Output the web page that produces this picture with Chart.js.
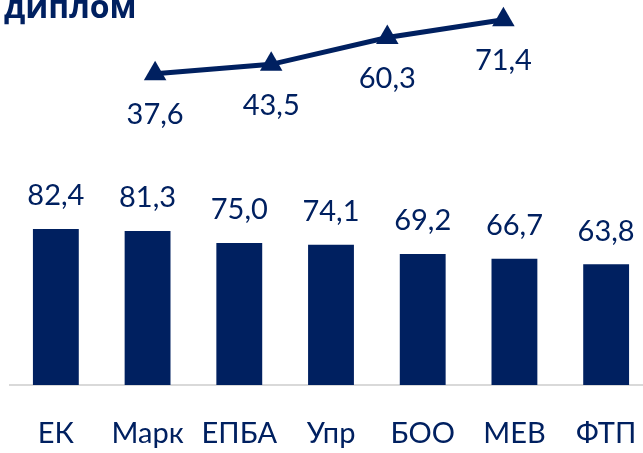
<!DOCTYPE html>
<html>
<head>
<meta charset="utf-8">
<script src="https://cdn.jsdelivr.net/npm/chart.js@4.4.0/dist/chart.umd.min.js"></script>
<style>
  html, body { margin: 0; padding: 0; background: #fff; overflow: hidden; }
  #wrap { position: absolute; left: 0; top: 0; width: 652px; height: 453px; }
  #grafica { display: block; width: 652px; height: 453px; }
</style>
</head>
<body>
<div id="wrap"><canvas id="grafica" width="652" height="453"></canvas></div>
<script>
const titulo = 'диплом';
const categorias = ['ЕК', 'Марк', 'ЕПБА', 'Упр', 'БОО', 'МЕВ', 'ФТП'];
const valoresBarras = [82.4, 81.3, 75.0, 74.1, 69.2, 66.7, 63.8];
const valoresLinea = [37.6, 43.5, 60.3, 71.4];

const azul = '#002060';
const fuente = 'Lato, "Open Sans", sans-serif';
const fmt = v => v.toFixed(1).replace('.', ',');

const etiquetas = {
    id: 'etiquetas',
    afterDatasetsDraw(chart) {
        const ctx = chart.ctx;
        ctx.save();
        ctx.fillStyle = azul;
        ctx.font = '29px ' + fuente;
        ctx.textAlign = 'center';
        ctx.textBaseline = 'middle';
        chart.getDatasetMeta(0).data.forEach((el, i) => {
            ctx.fillText(fmt(valoresBarras[i]), el.x, el.y - 33);
        });
        chart.getDatasetMeta(1).data.forEach((el, i) => {
            ctx.fillText(fmt(valoresLinea[i]), el.x, el.y + 41);
        });
        ctx.font = 'bold 32px "Open Sans", sans-serif';
        ctx.textAlign = 'left';
        ctx.textBaseline = 'alphabetic';
        ctx.fillText(titulo, 4, 18);
        ctx.restore();
    }
};

const ctx = document.getElementById('grafica').getContext('2d');
const myChart = new Chart(ctx, {
    data: {
        labels: categorias,
        datasets: [{
            type: 'bar',
            data: valoresBarras,
            backgroundColor: azul,
            barPercentage: 0.5,
            categoryPercentage: 1,
            grouped: false,
            xAxisID: 'x',
            yAxisID: 'y',
            order: 2
        }, {
            type: 'line',
            data: valoresLinea.map((v, i) => ({ x: i, y: v })),
            borderColor: azul,
            backgroundColor: azul,
            borderWidth: 5,
            pointStyle: 'triangle',
            pointRadius: 13,
            pointBorderWidth: 0,
            clip: false,
            xAxisID: 'x2',
            yAxisID: 'y2',
            order: 1
        }]
    },
    options: {
        responsive: false,
        animation: false,
        layout: { autoPadding: false, padding: { left: 10, right: 0, top: 0, bottom: 0 } },
        scales: {
            x: {
                grid: { display: false, drawTicks: true, tickLength: 31 },
                border: { display: true, color: '#d9d9d9', width: 2 },
                ticks: { color: azul, font: { family: fuente, size: 29 }, padding: 0, maxRotation: 0 },
                afterFit: s => { s.height = 68; }
            },
            x2: {
                type: 'linear',
                display: false,
                min: -1.25,
                max: 4.28
            },
            y: { display: false, min: 0, max: 203.4 },
            y2: { display: false, min: -156.9, max: 83.7 }
        },
        plugins: {
            legend: { display: false },
            tooltip: { enabled: false }
        }
    },
    plugins: [etiquetas]
});
</script>
</body>
</html>
